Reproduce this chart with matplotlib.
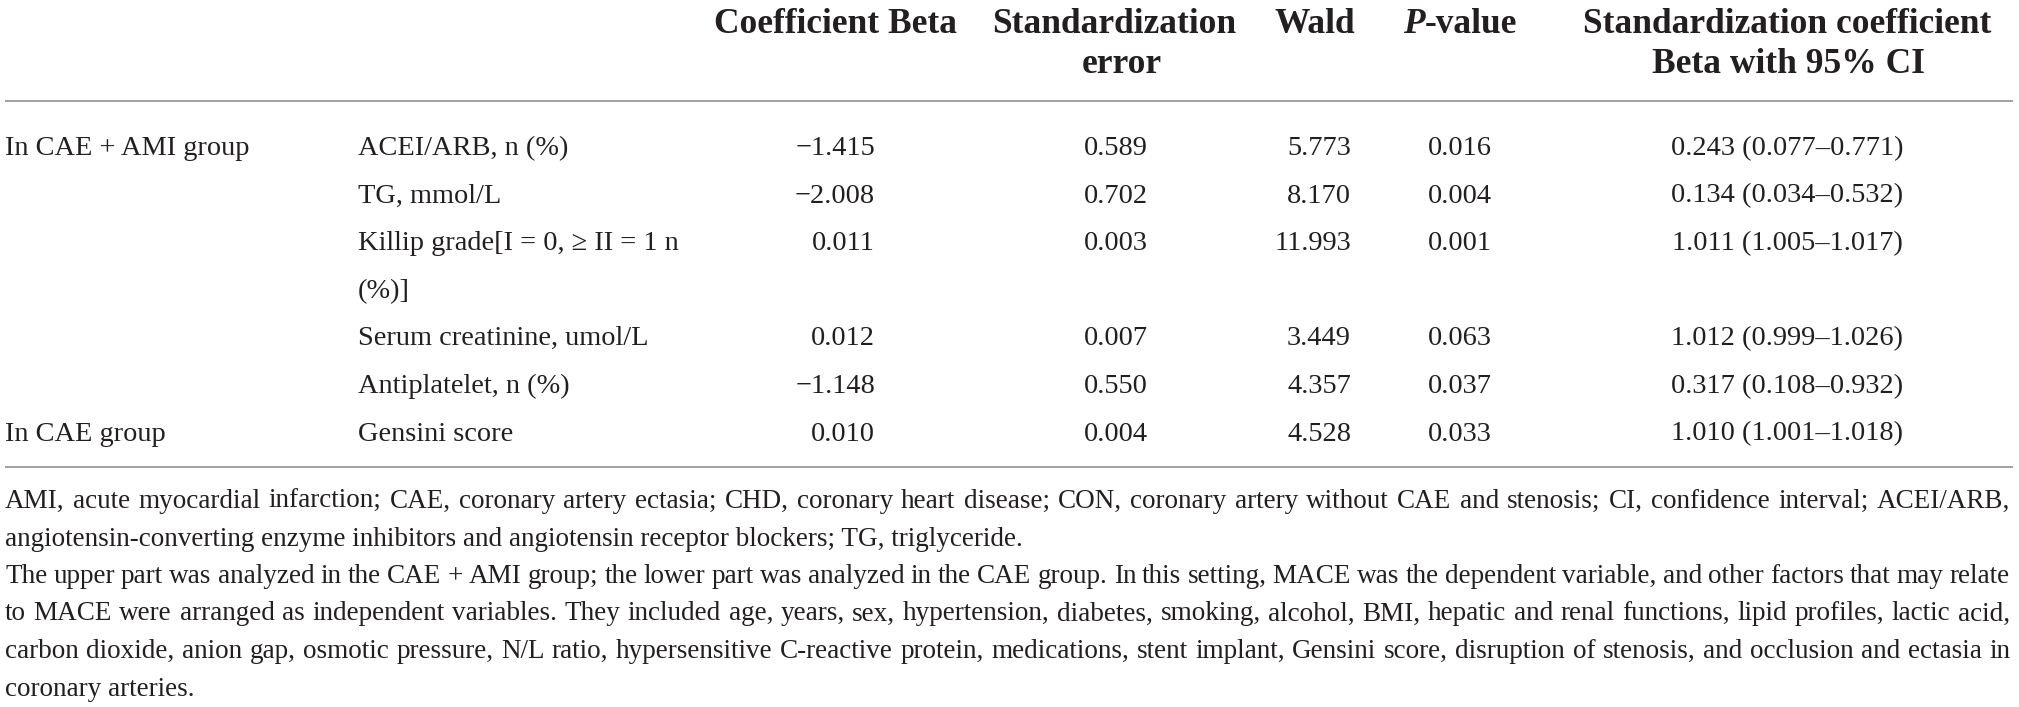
import matplotlib
matplotlib.use("Agg")
import matplotlib.pyplot as plt

# table contents
groups = ["In CAE + AMI group", "", "", "", "", "In CAE group"]
variables = ["ACEI/ARB, n (%)", "TG, mmol/L", "Killip grade[I = 0, \u2265 II = 1 n\n(%)]",
             "Serum creatinine, umol/L", "Antiplatelet, n (%)", "Gensini score"]
beta = [-1.415, -2.008, 0.011, 0.012, -1.148, 0.010]
std_err = [0.589, 0.702, 0.003, 0.007, 0.550, 0.004]
wald = [5.773, 8.170, 11.993, 3.449, 4.357, 4.528]
p_value = [0.016, 0.004, 0.001, 0.063, 0.037, 0.033]
exp_beta = [0.243, 0.134, 1.011, 1.012, 0.317, 1.010]
ci_low = [0.077, 0.034, 1.005, 0.999, 0.108, 1.001]
ci_high = [0.771, 0.532, 1.017, 1.026, 0.932, 1.018]

footnotes = [
    ("AMI, acute myocardial infarction; CAE, coronary artery ectasia; CHD, coronary heart disease; "
     "CON, coronary artery without CAE and stenosis; CI, confidence interval; ACEI/ARB,", True),
    ("angiotensin-converting enzyme inhibitors and angiotensin receptor blockers; TG, triglyceride.", False),
    ("The upper part was analyzed in the CAE + AMI group; the lower part was analyzed in the CAE group. "
     "In this setting, MACE was the dependent variable, and other factors that may relate", True),
    ("to MACE were arranged as independent variables. They included age, years, sex, hypertension, "
     "diabetes, smoking, alcohol, BMI, hepatic and renal functions, lipid profiles, lactic acid,", True),
    ("carbon dioxide, anion gap, osmotic pressure, N/L ratio, hypersensitive C-reactive protein, "
     "medications, stent implant, Gensini score, disruption of stenosis, and occlusion and ectasia in", True),
    ("coronary arteries.", False),
]

W, H = 2019, 707
FONT = ["Liberation Serif", "DejaVu Serif"]
INK = "#231f20"
RULE = "#9a9a9a"

fig = plt.figure(figsize=(W / 100, H / 100), dpi=100)
fig.patch.set_facecolor("white")
ax = fig.add_axes([0, 0, 1, 1])
ax.set_xlim(0, W)
ax.set_ylim(H, 0)
ax.axis("off")
renderer = fig.canvas.get_renderer()

body = dict(fontsize=20.4, family=FONT, color=INK, va="baseline")
head = dict(fontsize=25.5, family=FONT, color=INK, va="baseline", fontweight="bold")
note = dict(fontsize=19.5, family=FONT, color=INK, va="baseline")


def num(v, fmt="{:.3f}"):
    s = fmt.format(abs(v))
    return ("\u2212" + s) if v < 0 else s


def runs(x, y, pieces, ha="center"):
    # draw text pieces with different styles next to each other
    ts = [ax.text(0, y, s, **st) for s, st in pieces]
    ws = [t.get_window_extent(renderer).width for t in ts]
    x0 = x - sum(ws) / 2 if ha == "center" else x
    for t, w in zip(ts, ws):
        t.set_x(x0)
        x0 += w


def justify(x0, x1, y, s, **kw):
    words = s.split(" ")
    ts = [ax.text(0, y, w, **kw) for w in words]
    ws = [t.get_window_extent(renderer).width for t in ts]
    gap = (x1 - x0 - sum(ws)) / (len(words) - 1)
    x = x0
    for t, w in zip(ts, ws):
        t.set_x(x)
        x += w + gap


# header
h1, h2 = 33, 73
ax.text(836, h1, "Coefficient Beta", ha="center", **head)
ax.text(1114, h1, "Standardization", ha="center", **head)
ax.text(1122, h2, "error", ha="center", **head)
ax.text(1315, h1, "Wald", ha="center", **head)
runs(1460, h1, [("P", dict(head, fontstyle="italic")), ("-value", head)])
ax.text(1787, h1, "Standardization coefficient", ha="center", **head)
ax.text(1788, h2, "Beta with 95% CI", ha="center", **head)

ax.plot([5, 2013], [101, 101], color=RULE, lw=1.3, solid_capstyle="butt")

# body rows
pitch = 47.6
y = 155
for i in range(len(variables)):
    ax.text(5, y, groups[i], ha="left", **body)
    for k, line in enumerate(variables[i].split("\n")):
        ax.text(358, y + k * pitch, line, ha="left", **body)
    ax.text(875, y, num(beta[i]), ha="right", **body)
    ax.text(1116, y, num(std_err[i]), ha="center", **body)
    ax.text(1351, y, num(wald[i]), ha="right", **body)
    ax.text(1460, y, num(p_value[i]), ha="center", **body)
    ci = "{:.3f} ({:.3f}\u2013{:.3f})".format(exp_beta[i], ci_low[i], ci_high[i])
    ax.text(1787, y, ci, ha="center", **body)
    y += pitch * (variables[i].count("\n") + 1)

ax.plot([5, 2013], [467, 467], color=RULE, lw=1.3, solid_capstyle="butt")

# footnotes
fy = 508
for text, just in footnotes:
    if just:
        justify(5, 2010, fy, text, **note)
    else:
        ax.text(5, fy, text, ha="left", **note)
    fy += 37.5

fig.savefig("out.png", dpi=100, facecolor="white")
